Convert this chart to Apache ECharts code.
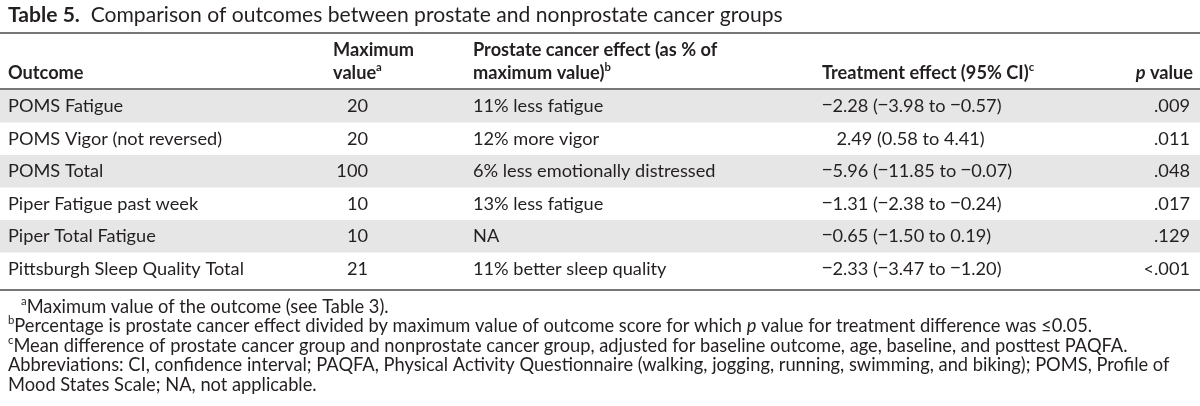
<!DOCTYPE html>
<html><head><meta charset="utf-8">
<script src="https://cdn.jsdelivr.net/npm/echarts@6/dist/echarts.min.js"></script>
<style>html,body{margin:0;padding:0;background:#fff}#c{width:1200px;height:406px}</style>
</head><body><div id="c"></div>
<script>
// ---- data ----
const outcomes = ['POMS Fatigue', 'POMS Vigor (not reversed)', 'POMS Total', 'Piper Fatigue past week', 'Piper Total Fatigue', 'Pittsburgh Sleep Quality Total'];
const maxValues = [20, 20, 100, 10, 10, 21];
const prostateEffects = ['11% less fatigue', '12% more vigor', '6% less emotionally distressed', '13% less fatigue', 'NA', '11% better sleep quality'];
const treatEstimates = [-2.28, 2.49, -5.96, -1.31, -0.65, -2.33];
const ciLower = [-3.98, 0.58, -11.85, -2.38, -1.50, -3.47];
const ciUpper = [-0.57, 4.41, -0.07, -0.24, 0.19, -1.20];
const pValues = ['.009', '.011', '.048', '.017', '.129', '<.001'];
const titleLabel = 'Table 5.';
const titleText = 'Comparison of outcomes between prostate and nonprostate cancer groups';
const footnotes = [
  ['a', 'Maximum value of the outcome (see Table 3).'],
  ['b', 'Percentage is prostate cancer effect divided by maximum value of outcome score for which |p| value for treatment difference was ≤0.05.'],
  ['c', 'Mean difference of prostate cancer group and nonprostate cancer group, adjusted for baseline outcome, age, baseline, and posttest PAQFA.'],
  ['', 'Abbreviations: CI, confidence interval; PAQFA, Physical Activity Questionnaire (walking, jogging, running, swimming, and biking); POMS, Profile of'],
  ['', 'Mood States Scale; NA, not applicable.']
];

// ---- layout / style ----
const FAM = 'Lato, "Open Sans", sans-serif';
const MFAM = '"Noto Sans", sans-serif';
const INK = '#231f20';
const cv = document.createElement('canvas').getContext('2d');
function fit(text, target, weight) {
  cv.font = (weight || 'normal') + ' 100px ' + FAM;
  return Math.round(1000 * target / cv.measureText(text).width) / 10;
}
const BODY = fit('Pittsburgh Sleep Quality Total', 236);
const NOTE = fit(footnotes[3][1], 1162);
const TITLE = fit(titleText, 693);
cv.font = 'normal ' + BODY + 'px ' + MFAM;
const MINUS_PAD = 0;
const MINUS_W = cv.measureText('\u2212').width + MINUS_PAD + 4;

const COL = {outcome: 8, maxRight: 368, maxHead: 333, effect: 473, treat: 822, pRight: 1190};

function fmt(v) { return (v < 0 ? '{m|\u2212}' : '') + '{n|' + Math.abs(v).toFixed(2) + '}'; }

const rich = (size) => ({
  n: {fontFamily: FAM, fontSize: size, color: INK, fontWeight: 'normal', lineHeight: size * 1.2},
  m: {fontFamily: MFAM, fontSize: size, color: INK, fontWeight: 'normal', lineHeight: size * 1.2, padding: [0, MINUS_PAD, 0, 0]},
  b: {fontFamily: FAM, fontSize: size, color: INK, fontWeight: 'bold', lineHeight: size * 1.2},
  bi: {fontFamily: FAM, fontSize: size, color: INK, fontWeight: 'bold', fontStyle: 'italic', lineHeight: size * 1.2},
  i: {fontFamily: FAM, fontSize: size, color: INK, fontWeight: 'normal', fontStyle: 'italic', lineHeight: size * 1.2},
  sup: {fontFamily: FAM, fontSize: size * 0.62, color: INK, fontWeight: 'normal', verticalAlign: 'top', lineHeight: size * 0.7},
  bsup: {fontFamily: FAM, fontSize: size * 0.62, color: INK, fontWeight: 'bold', verticalAlign: 'top', lineHeight: size * 0.7}
});

function txt(x, y, text, align, size) {
  return {type: 'text', x: x, y: y, silent: true,
    style: {text: text, align: align || 'left', verticalAlign: 'middle', rich: rich(size || BODY), font: (size || BODY) + 'px ' + FAM, fill: INK}};
}
function rule(y) {
  return {type: 'line', silent: true, shape: {x1: 0, y1: y, x2: 1200, y2: y}, style: {stroke: '#4a4a4a', lineWidth: 1.5}};
}

const graphics = [
  rule(33), rule(89), rule(290),
  txt(COL.outcome, 73, '{b|Outcome}'),
  txt(COL.maxHead, 50, '{b|Maximum}'),
  txt(COL.maxHead, 73, '{b|value}{bsup|a}'),
  txt(COL.effect, 50, '{b|Prostate cancer effect (as % of}'),
  txt(COL.effect, 73, '{b|maximum value)}{bsup|b}'),
  txt(COL.treat, 73, '{b|Treatment effect (95% CI)}{bsup|c}'),
  txt(1193, 73, '{bi|p}{b| value}', 'right')
];
const noteY = [307, 326, 346, 365, 385];
footnotes.forEach((f, k) => {
  const body = f[1].split('|').map((s, j) => j % 2 ? '{i|' + s + '}' : '{n|' + s + '}').join('');
  const x = k === 0 ? 21 : 8;
  graphics.push(txt(x, noteY[k], (f[0] ? '{sup|' + f[0] + '}' : '') + body, 'left', NOTE));
});

const chart = echarts.init(document.getElementById('c'), null, {renderer: 'canvas'});
chart.setOption({
  animation: false,
  backgroundColor: '#fff',
  title: {
    text: '{b|' + titleLabel + '}{n|  ' + titleText + '}',
    left: 8, top: 3, padding: 0,
    textStyle: {fontWeight: 'normal', rich: rich(TITLE)}
  },
  grid: {left: 0, right: 0, top: 90, height: 195, containLabel: false},
  xAxis: {type: 'value', min: 0, max: 1200, show: false},
  yAxis: {type: 'category', data: outcomes, inverse: true, show: false},
  graphic: graphics,
  series: [{
    type: 'custom',
    silent: true,
    encode: {x: 0, y: 1},
    data: outcomes.map((o, i) => [0, i]),
    renderItem: function (params, api) {
      const i = api.value(1);
      const c0 = api.coord([0, i]);
      const c1 = api.coord([1200, i]);
      const h = api.size([0, 1])[1];
      const y = c0[1];
      const X = (v) => api.coord([v, i])[0];
      const est = treatEstimates[i];
      const treatStr = fmt(est) + '{n| (}' + fmt(ciLower[i]) + '{n| to }' + fmt(ciUpper[i]) + '{n|)}';
      const t = (x, s, align) => ({type: 'text', x: x, y: y,
        style: {text: s, align: align, verticalAlign: 'middle', font: BODY + 'px ' + FAM, fill: INK, rich: rich(BODY)}});
      return {type: 'group', children: [
        {type: 'rect', shape: {x: c0[0], y: y - h / 2, width: c1[0] - c0[0], height: h},
          style: {fill: i % 2 === 0 ? '#e6e6e6' : 'rgba(0,0,0,0)'}},
        t(X(COL.outcome), outcomes[i], 'left'),
        t(X(COL.maxRight), String(maxValues[i]), 'right'),
        t(X(COL.effect), prostateEffects[i], 'left'),
        t(X(COL.treat + (est < 0 ? 0 : MINUS_W)), treatStr, 'left'),
        t(X(COL.pRight), pValues[i], 'right')
      ]};
    }
  }]
});
</script></body></html>
